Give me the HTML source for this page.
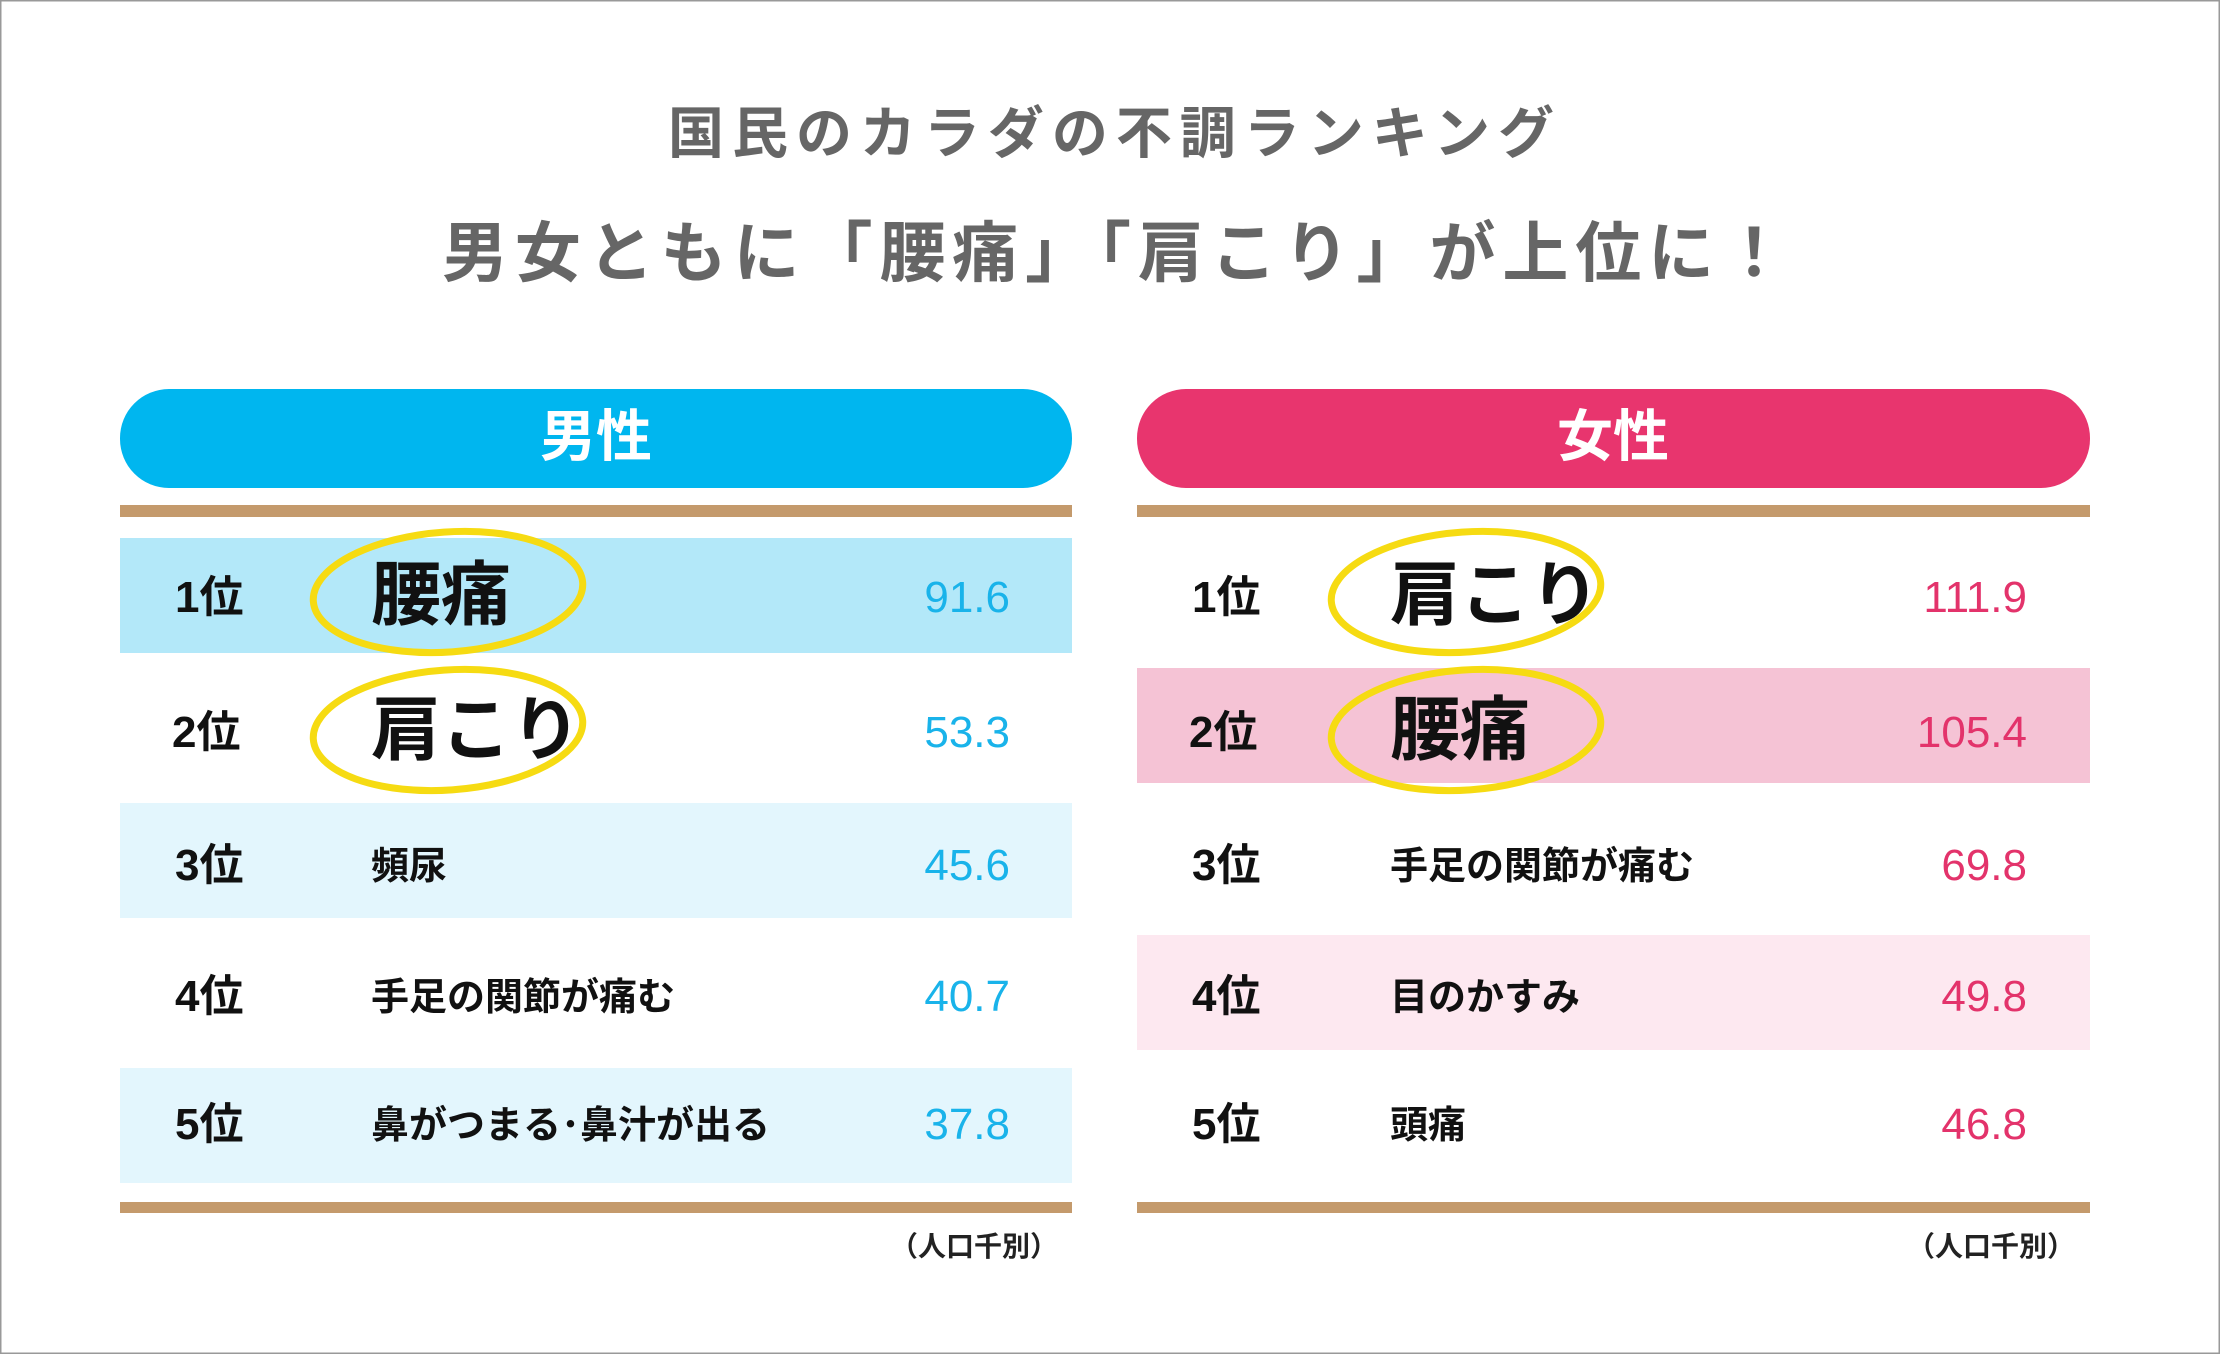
<!DOCTYPE html>
<html><head><meta charset="utf-8"><style>
html,body{margin:0;padding:0;background:#fff}
svg{display:block}
text{font-family:"Liberation Sans","Noto Sans CJK JP",sans-serif}
</style></head><body>
<svg width="2220" height="1354" viewBox="0 0 2220 1354" xmlns="http://www.w3.org/2000/svg">
<rect x="0.5" y="0.5" width="2219" height="1353" fill="#fff" stroke="#999" stroke-width="2"/>
<text x="668" y="153" font-size="56" font-weight="bold" fill="#666" textLength="886" lengthAdjust="spacing">国民のカラダの不調ランキング</text>
<text x="442" y="276" font-size="66" font-weight="bold" fill="#666" textLength="1345" lengthAdjust="spacing">男女ともに「腰痛」「肩こり」が上位に！</text>

<rect x="120" y="389" width="952" height="99" rx="49" fill="#00b6ef"/>
<text x="596" y="456" font-size="56" font-weight="bold" fill="#fff" text-anchor="middle">男性</text>
<rect x="1137" y="389" width="953" height="99" rx="49" fill="#e8356e"/>
<text x="1613" y="456" font-size="56" font-weight="bold" fill="#fff" text-anchor="middle">女性</text>

<rect x="120" y="505" width="952" height="12" fill="#c49a6c"/>
<rect x="1137" y="505" width="953" height="12" fill="#c49a6c"/>
<rect x="120" y="1202" width="952" height="11" fill="#c49a6c"/>
<rect x="1137" y="1202" width="953" height="11" fill="#c49a6c"/>

<rect x="120" y="538" width="952" height="115" fill="#b3e8f9"/>
<rect x="120" y="803" width="952" height="115" fill="#e3f6fd"/>
<rect x="120" y="1068" width="952" height="115" fill="#e3f6fd"/>
<rect x="1137" y="668" width="953" height="115" fill="#f5c3d5"/>
<rect x="1137" y="935" width="953" height="115" fill="#fde8f0"/>

<g font-weight="bold" fill="#111" font-size="44">
<text x="175" y="612">1位</text><text x="172" y="747">2位</text><text x="175" y="880">3位</text><text x="175" y="1011">4位</text><text x="175" y="1139">5位</text>
<text x="1192" y="612">1位</text><text x="1189" y="747">2位</text><text x="1192" y="880">3位</text><text x="1192" y="1011">4位</text><text x="1192" y="1139">5位</text>
</g>
<g font-weight="bold" fill="#111">
<text x="371" y="619" font-size="70">腰痛</text>
<text x="371" y="754" font-size="70">肩こり</text>
<text x="371" y="879" font-size="38">頻尿</text>
<text x="371" y="1010" font-size="38">手足の関節が痛む</text>
<text x="371" y="1138" font-size="38">鼻がつまる･鼻汁が出る</text>
<text x="1390" y="619" font-size="70">肩こり</text>
<text x="1390" y="754" font-size="70">腰痛</text>
<text x="1390" y="879" font-size="38">手足の関節が痛む</text>
<text x="1390" y="1010" font-size="38">目のかすみ</text>
<text x="1390" y="1138" font-size="38">頭痛</text>
</g>
<g font-size="44" text-anchor="end">
<g fill="#19b3ea">
<text x="1010" y="612">91.6</text><text x="1010" y="747">53.3</text><text x="1010" y="880">45.6</text><text x="1010" y="1011">40.7</text><text x="1010" y="1139">37.8</text>
</g>
<g fill="#e3336b">
<text x="2027" y="612">111.9</text><text x="2027" y="747">105.4</text><text x="2027" y="880">69.8</text><text x="2027" y="1011">49.8</text><text x="2027" y="1139">46.8</text>
</g>
</g>
<g fill="none" stroke="#f6db12" stroke-width="7">
<ellipse cx="448" cy="592" rx="135" ry="60" transform="rotate(-4 448 592)"/>
<ellipse cx="448" cy="730" rx="135" ry="60" transform="rotate(-4 448 730)"/>
<ellipse cx="1466" cy="592" rx="135" ry="60" transform="rotate(-4 1466 592)"/>
<ellipse cx="1466" cy="730" rx="135" ry="60" transform="rotate(-4 1466 730)"/>
</g>
<g font-size="28" font-weight="bold" fill="#222" text-anchor="end">
<text x="1058" y="1256">（人口千別）</text>
<text x="2075" y="1256">（人口千別）</text>
</g>
</svg>
</body></html>
